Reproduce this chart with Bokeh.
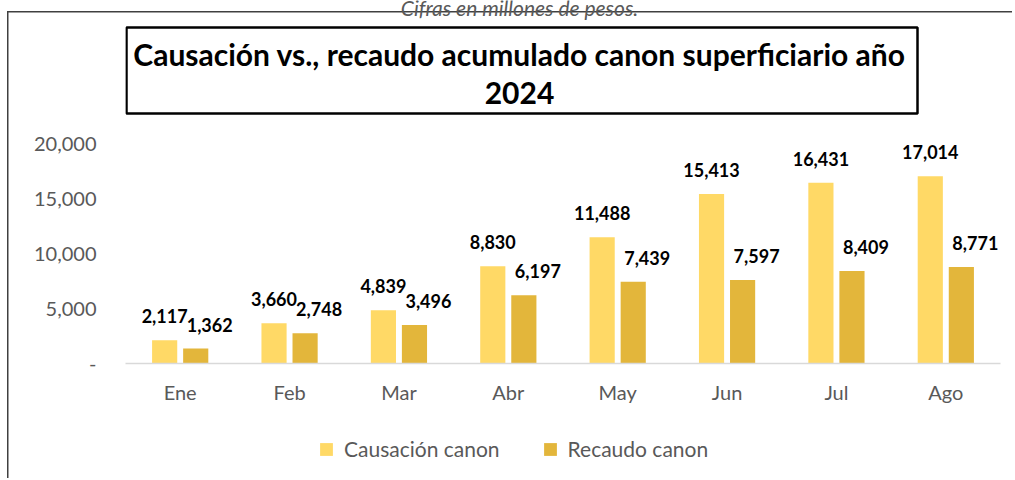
from bokeh.plotting import figure
from bokeh.layouts import column
from bokeh.models import (ColumnDataSource, LabelSet, Label, BoxAnnotation,
                          NumeralTickFormatter, FactorRange, Range1d, Legend, LegendItem)
from bokeh.transform import dodge
from bokeh.core.properties import value
from bokeh.embed import file_html
from bokeh.resources import INLINE

months = ["Ene", "Feb", "Mar", "Abr", "May", "Jun", "Jul", "Ago"]
causacion = [2117, 3660, 4839, 8830, 11488, 15413, 16431, 17014]
recaudo = [1362, 2748, 3496, 6197, 7439, 7597, 8409, 8771]
y_ticks = [0, 5000, 10000, 15000, 20000]
series_names = ["Causación canon", "Recaudo canon"]
title_lines = ["Causación vs., recaudo acumulado canon superficiario año", "2024"]
subtitle = "Cifras en millones de pesos."

C1 = "#FFD966"
C2 = "#E3B63B"
GREY = "#595959"

W = 1012
H1, H2 = 420, 58                     # main chart / legend strip heights
FL, FR, FB = 125, 1000, 363          # frame left/right/bottom (px)
PX_PER_UNIT = 220 / 20000            # 20,000 spans 220 px
OFF, BW = 0.142, 0.23                # bar dodge and width (category units)

src = ColumnDataSource(dict(
    m=months, c=causacion, r=recaudo,
    cl=[f"{v:,}" for v in causacion],
    rl=[f"{v:,}" for v in recaudo],
))

p = figure(x_range=FactorRange(*months),
           y_range=Range1d(0, FB / PX_PER_UNIT),
           frame_width=FR - FL, frame_height=FB,
           output_backend="svg", toolbar_location=None,
           min_border_left=FL, min_border_right=W - FR, min_border_top=0,
           min_border_bottom=H1 - FB)
p.outline_line_color = None
p.background_fill_color = None
p.border_fill_color = None
p.styles = {
    "background-color": "white",
    "background-image": "linear-gradient(#404040, #404040), linear-gradient(#404040, #404040)",
    "background-size": "1.5px 100%, 100% 1.5px",
    "background-position": "7px 11px, 7px 11px",
    "background-repeat": "no-repeat",
}

p.vbar(x=dodge("m", -OFF, range=p.x_range), top="c", width=BW, source=src,
       fill_color=C1, line_color=None)
p.vbar(x=dodge("m", OFF, range=p.x_range), top="r", width=BW, source=src,
       fill_color=C2, line_color=None)

p.add_layout(LabelSet(x=dodge("m", -OFF, range=p.x_range), y="c", text="cl", source=src,
                      text_align="center", text_baseline="middle", y_offset=24,
                      text_font=value("Lato"), text_font_style="bold",
                      text_font_size="18px", text_color="black"))
p.add_layout(LabelSet(x=dodge("m", OFF, range=p.x_range), y="r", text="rl", source=src,
                      text_align="center", text_baseline="middle", y_offset=24, x_offset=14,
                      text_font=value("Lato"), text_font_style="bold",
                      text_font_size="18px", text_color="black"))

p.xgrid.grid_line_color = None
p.ygrid.grid_line_color = None

p.yaxis.ticker = y_ticks
p.yaxis.formatter = NumeralTickFormatter(format="0,0")
p.yaxis.major_label_overrides = {0: "-"}
p.yaxis.axis_line_color = None
p.yaxis.major_tick_line_color = None
p.yaxis.minor_tick_line_color = None
p.yaxis.major_label_standoff = 23

p.xaxis.axis_line_color = "#D9D9D9"
p.xaxis.axis_line_width = 1.5
p.xaxis.major_tick_line_color = None
p.xaxis.minor_tick_line_color = None
p.xaxis.major_label_standoff = 10

for ax in (p.xaxis, p.yaxis):
    ax.major_label_text_font = "Lato"
    ax.major_label_text_font_size = "20px"
    ax.major_label_text_color = GREY

# screen units are relative to the frame (x from frame left, y up from frame bottom)
p.add_layout(BoxAnnotation(left=126 - FL, right=917 - FL, top=FB - 27, bottom=FB - 113,
                           left_units="screen", right_units="screen",
                           top_units="screen", bottom_units="screen",
                           fill_color="white", fill_alpha=1,
                           line_color="black", line_alpha=1, line_width=2.5))
p.add_layout(Label(x=519 - FL, y=FB - 53, x_units="screen", y_units="screen",
                   text=title_lines[0], text_align="center", text_baseline="middle",
                   text_font="Lato", text_font_style="bold",
                   text_font_size="30px", text_color="black"))
p.add_layout(Label(x=519 - FL, y=FB - 92, x_units="screen", y_units="screen",
                   text=title_lines[1], text_align="center", text_baseline="middle",
                   text_font="Lato", text_font_style="bold",
                   text_font_size="30px", text_color="black"))
p.add_layout(Label(x=519 - FL, y=FB - 7, x_units="screen", y_units="screen",
                   text=subtitle, text_align="center", text_baseline="alphabetic",
                   text_font="Lato", text_font_style="italic",
                   text_font_size="21px", text_color=GREY))

# legend strip underneath (same series, renderers hidden, only the legend shows)
p2 = figure(width=W, height=H2, frame_width=W, frame_height=H2,
            output_backend="svg", toolbar_location=None,
            x_axis_location=None, y_axis_location=None,
            min_border=0, x_range=FactorRange(*months), y_range=(0, 1))
p2.outline_line_color = None
p2.background_fill_color = None
p2.border_fill_color = None
p2.xgrid.grid_line_color = None
p2.ygrid.grid_line_color = None
p2.styles = {
    "background-color": "white",
    "background-image": "linear-gradient(#404040, #404040)",
    "background-size": "1.5px 100%",
    "background-position": "7px 0px",
    "background-repeat": "no-repeat",
}
k1 = p2.rect(x=dodge("m", -OFF, range=p2.x_range), y="c", width=BW, height=1, source=src,
             fill_color=C1, line_color=None, visible=False)
k2 = p2.rect(x=dodge("m", OFF, range=p2.x_range), y="r", width=BW, height=1, source=src,
             fill_color=C2, line_color=None, visible=False)
leg = Legend(items=[LegendItem(label=series_names[0], renderers=[k1]),
                    LegendItem(label=series_names[1], renderers=[k2])],
             orientation="horizontal", location=(318, 17),
             padding=0, margin=0, spacing=42, glyph_width=16, glyph_height=16,
             label_standoff=10, border_line_color=None, background_fill_alpha=0,
             inactive_fill_alpha=0,
             label_text_font="Lato", label_text_font_size="21px",
             label_text_color=GREY)
p2.add_layout(leg, "center")

layout = column(p, p2, spacing=0)
open("out.html", "w").write(file_html(layout, INLINE))
